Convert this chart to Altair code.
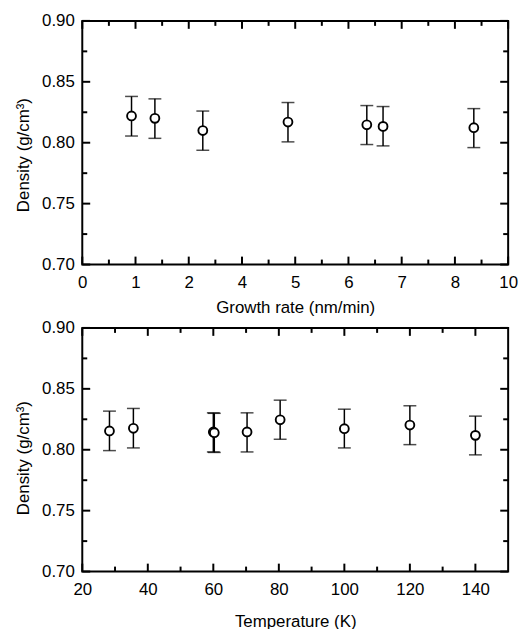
import altair as alt
import pandas as pd

# ---- data ----
# Top panel: x positions on the printed (evenly spaced) tick scale
growth_tick_labels = ["0", "1", "2", "4", "5", "6", "7", "8", "10"]
growth_pos = [0.925, 1.364, 2.264, 3.864, 5.345, 5.65, 7.355]
growth_density = [0.822, 0.820, 0.810, 0.817, 0.8147, 0.8134, 0.8123]
growth_lo = [0.8055, 0.8036, 0.7938, 0.8007, 0.7985, 0.7974, 0.7960]
growth_hi = [0.838, 0.836, 0.826, 0.833, 0.8305, 0.8297, 0.828]

temp_K = [28.3, 35.6, 60.0, 60.3, 70.3, 80.4, 100.0, 120.0, 140.0]
temp_density = [0.8154, 0.8176, 0.8146, 0.8140, 0.8146, 0.8246, 0.8173, 0.8203, 0.8118]
temp_lo = [0.7993, 0.8015, 0.7982, 0.7978, 0.7982, 0.8086, 0.8015, 0.8042, 0.7958]
temp_hi = [0.8317, 0.8339, 0.8303, 0.8299, 0.8303, 0.8407, 0.8333, 0.8361, 0.8276]

y_major = [0.70, 0.75, 0.80, 0.85, 0.90]
y_minor = [0.725, 0.775, 0.825, 0.875]
gx_major = [0, 1, 2, 3, 4, 5, 6, 7, 8]
gx_minor = [0.5, 1.5, 2.5, 3.5, 4.5, 5.5, 6.5, 7.5]
tx_major = [20, 40, 60, 80, 100, 120, 140]
tx_minor = [30, 50, 70, 90, 110, 130]

W, H = 430, 246
FONT = "Liberation Sans"
MAJ, MIN = 8, 5


def panel(xs, ys, lo, hi, xdom, xmaj, xmin, xtitle, xaxis_extra, title_pad, ytitle_y):
    df = pd.DataFrame({"x": xs, "y": ys, "lo": lo, "hi": hi})
    xs_ = alt.Scale(domain=xdom, nice=False, zero=False)
    ys_ = alt.Scale(domain=[0.70, 0.90], nice=False, zero=False)
    xax = alt.Axis(title=xtitle, ticks=False, domain=False, grid=False,
                   labelPadding=10, titlePadding=title_pad, **xaxis_extra)
    yax = alt.Axis(title="Density (g/cm³)", values=y_major, format=".2f",
                   ticks=False, domain=False, grid=False, labelPadding=8,
                   titlePadding=9, titleY=ytitle_y)
    base = alt.Chart(df)
    err = base.mark_rule(color="black", strokeWidth=1.5).encode(
        x=alt.X("x:Q", scale=xs_, axis=xax),
        y=alt.Y("lo:Q", scale=ys_, axis=yax),
        y2="hi:Q",
    )
    cap_lo = base.mark_tick(color="black", orient="horizontal", size=13, thickness=1.5).encode(
        x="x:Q", y="lo:Q")
    cap_hi = base.mark_tick(color="black", orient="horizontal", size=13, thickness=1.5).encode(
        x="x:Q", y="hi:Q")
    pts = base.mark_point(shape="circle", filled=True, fill="white", stroke="black",
                          strokeWidth=1.9, size=80, opacity=1).encode(x="x:Q", y="y:Q")

    layers = [err, cap_lo, cap_hi, pts]
    # inward tick marks on all four sides
    for vals, ln in ((y_major, MAJ), (y_minor, MIN)):
        d = pd.DataFrame({"v": vals})
        layers.append(alt.Chart(d).mark_rule(color="black", strokeWidth=2).encode(
            y=alt.Y("v:Q", scale=ys_), x=alt.value(0), x2=alt.value(ln)))
        layers.append(alt.Chart(d).mark_rule(color="black", strokeWidth=2).encode(
            y=alt.Y("v:Q", scale=ys_), x=alt.value(W - ln), x2=alt.value(W)))
    for vals, ln in ((xmaj, MAJ), (xmin, MIN)):
        d = pd.DataFrame({"v": vals})
        layers.append(alt.Chart(d).mark_rule(color="black", strokeWidth=2).encode(
            x=alt.X("v:Q", scale=xs_), y=alt.value(H - ln), y2=alt.value(H)))
        layers.append(alt.Chart(d).mark_rule(color="black", strokeWidth=2).encode(
            x=alt.X("v:Q", scale=xs_), y=alt.value(0), y2=alt.value(ln)))
    return alt.layer(*layers).properties(width=W, height=H)


top = panel(growth_pos, growth_density, growth_lo, growth_hi, [0, 8], gx_major, gx_minor,
            "Growth rate (nm/min)",
            dict(values=gx_major,
                 labelExpr="['" + "','".join(growth_tick_labels) + "'][datum.value]"),
            9, H / 2 + 12)
bottom = panel(temp_K, temp_density, temp_lo, temp_hi, [20, 150], tx_major, tx_minor,
               "Temperature (K)", dict(values=tx_major), 16, H / 2 + 8)

chart = alt.vconcat(top, bottom, spacing=64, bounds="flush").properties(
    padding={"left": 5, "top": 0, "right": 5, "bottom": 0},
).configure_view(stroke="black", strokeWidth=2).configure_axis(
    labelFont=FONT, titleFont=FONT, labelFontSize=17, titleFontSize=17,
    labelColor="black", titleColor="black", titleFontWeight="normal",
    labelFlush=False,
)

chart.save("out.html", embed_options={"renderer": "svg", "actions": False})
